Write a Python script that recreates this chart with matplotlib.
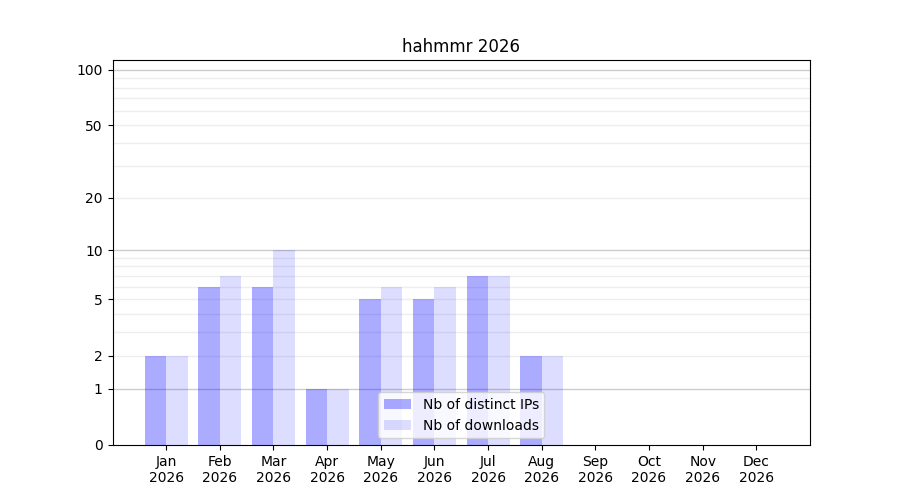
import numpy as np
import matplotlib
matplotlib.use("Agg")
import matplotlib.pyplot as plt

months = ["Jan", "Feb", "Mar", "Apr", "May", "Jun", "Jul", "Aug", "Sep", "Oct", "Nov", "Dec"]
year = "2026"
distinct_ips = [2, 6, 6, 1, 5, 5, 7, 2, 0, 0, 0, 0]
downloads = [2, 7, 10, 1, 6, 6, 7, 2, 0, 0, 0, 0]
yticks = [0, 1, 2, 5, 10, 20, 50, 100]

fig, ax = plt.subplots(figsize=(9, 5), dpi=100)

ax.set_yscale('function', functions=(lambda v: np.log10(1 + np.maximum(v, 0)),
                                     lambda v: 10 ** v - 1))

# grid: darker at decades, lighter in between
for v in [1, 10, 100]:
    ax.axhline(v, color='#cccccc', linewidth=1, zorder=0)
for v in list(range(2, 10)) + list(range(20, 100, 10)):
    ax.axhline(v, color='#eeeeee', linewidth=1, zorder=0)

x = np.arange(len(months))
ax.bar(x, distinct_ips, width=-0.4, align='edge', color=(0, 0, 1, 0.33),
       label="Nb of distinct IPs", zorder=1)
ax.bar(x, downloads, width=0.4, align='edge', color=(0, 0, 1, 0.135),
       label="Nb of downloads", zorder=1)

ax.set_xticks(x)
ax.set_xticklabels([m + "\n" + year for m in months])
ax.set_xlim(-1, 12)
ax.set_ylim(0, 113)
ax.set_yticks(yticks)
ax.set_yticklabels([str(t) for t in yticks])
ax.minorticks_off()

ax.set_title("hahmmr " + year)
ax.legend(loc='lower center')

plt.savefig("out.png")
